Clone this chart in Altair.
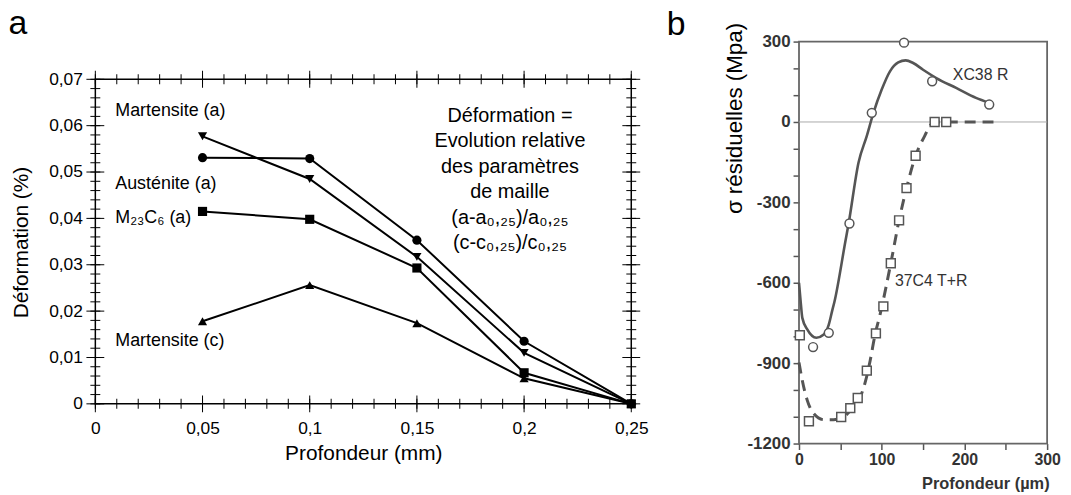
import altair as alt
import pandas as pd

FONT = "Liberation Sans"

# ---------------- panel a : data ----------------
depth_mm = [0.05, 0.10, 0.15, 0.20, 0.25]
series_names = ["Martensite (a)", "Austénite (a)", "M23C6 (a)", "Martensite (c)"]
martensite_a = [0.0577, 0.0485, 0.0317, 0.0110, 0.0]
austenite_a = [0.0531, 0.0529, 0.0353, 0.0135, 0.0]
m23c6_a = [0.0415, 0.0398, 0.0293, 0.0067, 0.0]
martensite_c = [0.0178, 0.0256, 0.0174, 0.0055, 0.0]
series_values = [martensite_a, austenite_a, m23c6_a, martensite_c]
series_shapes = ["triangle-down", "circle", "square", "triangle-up"]

label_texts = ["Martensite (a)", "Austénite (a)", "M₂₃C₆ (a)", "Martensite (c)"]
label_x = [0.0093, 0.0093, 0.0093, 0.0093]
label_y = [0.0632, 0.0474, 0.0401, 0.0135]

note_lines = ["Déformation =", "Evolution relative", "des paramètres",
              "de maille", "(a-a₀,₂₅)/a₀,₂₅", "(c-c₀,₂₅)/c₀,₂₅"]
note_x = 0.1934
note_y = 0.0621

panel_a_tag = ("a", -0.0405, 0.0798)

xa_ticks_major = [0, 0.05, 0.1, 0.15, 0.2, 0.25]
xa_ticks_minor = [round(i * 0.01, 2) for i in range(26)]
ya_ticks_major = [0, 0.01, 0.02, 0.03, 0.04, 0.05, 0.06, 0.07]
ya_ticks_minor = [round(i * 0.002, 3) for i in range(36)]

# ---------------- panel b : data ----------------
xc38_pts_x = [17, 36, 61, 88, 127, 161, 230]
xc38_pts_y = [-840, -787, -379, 34, 296, 152, 65]
xc38_curve_x = [0, 2, 4, 10, 21, 30, 36, 40, 43, 56, 60, 72, 82, 90, 100, 110,
                120, 129, 138, 150, 166, 190, 214, 230]
xc38_curve_y = [-600, -670, -731, -774, -805, -793, -756, -706, -669, -447, -379,
                -151, -52, 34, 121, 189, 222, 230, 220, 195, 164, 127, 90, 72]

c4_pts_x = [1, 12, 51, 62, 71, 82, 93, 102, 111, 121, 130, 141, 164, 178]
c4_pts_y = [-796, -1117, -1101, -1068, -1030, -928, -789, -688, -527, -367,
            -247, -126, 0, 0]
c4_curve_x = [0, 4, 10, 18, 30, 42, 52, 64, 74, 80, 86, 92, 98, 111, 121, 130,
              141, 152, 160, 170, 200, 238]
c4_curve_y = [-898, -965, -1039, -1089, -1111, -1111, -1104, -1070, -1027, -972,
              -891, -793, -719, -527, -367, -247, -126, -52, -9, 0, 0, 0]

b_labels = ["XC38 R", "37C4 T+R"]
b_label_x = [186, 116]
b_label_y = [176, -595]

panel_b_tag = ("b", -160, 326)

xb_ticks = [0, 50, 100, 150, 200, 250, 300]
yb_ticks = list(range(-1200, 301, 100))

# ---------------- panel a ----------------
A_W, A_H = 540, 365
A_YMAX = 0.07 * 365 / 327  # plot extends above the frame so tops align with panel b
XA_LO, XA_HI = xa_ticks_major[0], xa_ticks_major[-1]
YA_LO, YA_HI = ya_ticks_major[0], ya_ticks_major[-1]

xsA = alt.Scale(domain=[0, 0.25], nice=False, zero=False)
ysA = alt.Scale(domain=[0, A_YMAX], nice=False, zero=False)

comma_expr = "replace(toString(datum.value), '.', ',')"

axA_x = alt.Axis(values=xa_ticks_major, labelExpr=comma_expr, ticks=False, domain=False,
                 grid=False, labelFontSize=17.5, labelColor="black", labelPadding=16,
                 labelFlush=False, labelOverlap=False, title="Profondeur (mm)",
                 titleFontSize=21, titleFontWeight="normal", titleColor="black",
                 titleY=56, titleBaseline="alphabetic")
axA_y = alt.Axis(values=ya_ticks_major, labelExpr=comma_expr, ticks=False, domain=False,
                 grid=False, labelFontSize=17.5, labelColor="black", labelPadding=13,
                 labelFlush=False, labelOverlap=False, title="Déformation (%)",
                 titleFontSize=21, titleFontWeight="normal", titleColor="black",
                 titleX=-74, titleY=202, titleAlign="center", titleBaseline="middle",
                 titleAngle=270)

rows = []
for name, vals in zip(series_names, series_values):
    for d, v in zip(depth_mm, vals):
        rows.append({"series": name, "depth": d, "value": v})
df_a = pd.DataFrame(rows)

one = pd.DataFrame({"k": [0]})

frame_a = alt.Chart(one).mark_rect(fillOpacity=0, stroke="black", strokeWidth=1.5).encode(
    x=alt.XDatum(XA_LO, scale=xsA, axis=axA_x),
    x2=alt.X2Datum(XA_HI),
    y=alt.YDatum(YA_LO, scale=ysA, axis=axA_y),
    y2=alt.Y2Datum(YA_HI),
)

# tick tables along the four sides of the frame
xtick_minor_df = pd.DataFrame([{"t": t, "lvl": l} for l in (YA_LO, YA_HI) for t in xa_ticks_minor])
xtick_major_df = pd.DataFrame([{"t": t, "lvl": l} for l in (YA_LO, YA_HI) for t in xa_ticks_major])
ytick_minor_df = pd.DataFrame([{"t": t, "lvl": l} for l in (XA_LO, XA_HI) for t in ya_ticks_minor])
ytick_major_df = pd.DataFrame([{"t": t, "lvl": l} for l in (XA_LO, XA_HI) for t in ya_ticks_major])


def xticks(df, size):
    return alt.Chart(df).mark_tick(orient="vertical", size=size, thickness=1,
                                   color="black", opacity=1).encode(
        x=alt.X("t:Q", scale=xsA),
        y=alt.Y("lvl:Q", scale=ysA))


def yticks(df, size):
    return alt.Chart(df).mark_tick(orient="horizontal", size=size, thickness=1,
                                   color="black", opacity=1).encode(
        y=alt.Y("t:Q", scale=ysA),
        x=alt.X("lvl:Q", scale=xsA))


tick_layers = [xticks(xtick_minor_df, 10), xticks(xtick_major_df, 17),
               yticks(ytick_minor_df, 10), yticks(ytick_major_df, 18)]

lines_a = alt.Chart(df_a).mark_line(color="black", strokeWidth=2).encode(
    x=alt.X("depth:Q", scale=xsA, axis=axA_x),
    y=alt.Y("value:Q", scale=ysA, axis=axA_y),
    detail="series:N",
    order="depth:Q",
)
points_a = alt.Chart(df_a).mark_point(filled=True, color="black", opacity=1, size=85).encode(
    x=alt.X("depth:Q", scale=xsA, axis=axA_x),
    y=alt.Y("value:Q", scale=ysA, axis=axA_y),
    shape=alt.Shape("series:N", scale=alt.Scale(domain=series_names, range=series_shapes),
                    legend=None),
)

df_lab = pd.DataFrame({"text": label_texts, "x": label_x, "y": label_y})
labels_a = alt.Chart(df_lab).mark_text(align="left", baseline="middle", fontSize=18,
                                       color="black").encode(
    x=alt.X("x:Q", scale=xsA, axis=axA_x),
    y=alt.Y("y:Q", scale=ysA, axis=axA_y),
    text="text:N",
)

note_a = alt.Chart(one).mark_text(text=note_lines, align="center", baseline="middle",
                                  fontSize=20, lineHeight=25.6, color="black").encode(
    x=alt.XDatum(note_x, scale=xsA, axis=axA_x),
    y=alt.YDatum(note_y, scale=ysA, axis=axA_y),
)

tag_a = alt.Chart(one).mark_text(text=panel_a_tag[0], align="left", baseline="alphabetic",
                                 fontSize=34, color="black").encode(
    x=alt.XDatum(panel_a_tag[1], scale=xsA, axis=axA_x),
    y=alt.YDatum(panel_a_tag[2], scale=ysA, axis=axA_y),
)

panel_a = alt.layer(frame_a, *tick_layers, lines_a, points_a, labels_a, note_a,
                    tag_a).properties(width=A_W, height=A_H)

# ---------------- panel b ----------------
B_W, B_H = 250, 405
xsB = alt.Scale(domain=[0, 300], nice=False, zero=False)
ysB = alt.Scale(domain=[-1200, 300], nice=False, zero=False)

axB_x = alt.Axis(values=xb_ticks,
                 labelExpr="datum.value % 100 === 0 ? toString(datum.value) : ''",
                 tickSize=6, tickColor="#555", tickWidth=1.5, domain=False, grid=False,
                 labelFontSize=16, labelFontWeight="bold", labelColor="#333", labelPadding=2,
                 labelFlush=False, labelOverlap=False, title="Profondeur (µm)",
                 titleFontSize=16.5, titleFontWeight="bold", titleColor="#333",
                 titleX=252, titleAlign="right", titleY=45, titleBaseline="alphabetic")
axB_y = alt.Axis(values=yb_ticks,
                 labelExpr="datum.value % 300 === 0 ? toString(datum.value) : ''",
                 tickSize=6, tickColor="#555", tickWidth=1.5, domain=False, grid=False,
                 labelFontSize=17, labelFontWeight="bold", labelColor="#333", labelPadding=3,
                 labelFlush=False, labelOverlap=False, title="σ résiduelles (Mpa)",
                 titleFontSize=22.5, titleFontWeight="normal", titleColor="black",
                 titleX=-65, titleY=77, titleAlign="center", titleBaseline="middle",
                 titleAngle=270)

frame_b = alt.Chart(one).mark_rect(fillOpacity=0, stroke="#666", strokeWidth=1.8).encode(
    x=alt.XDatum(0, scale=xsB, axis=axB_x),
    x2=alt.X2Datum(300),
    y=alt.YDatum(-1200, scale=ysB, axis=axB_y),
    y2=alt.Y2Datum(300),
)
zero_b = alt.Chart(one).mark_rule(color="#aaa", strokeWidth=1).encode(
    x=alt.XDatum(0, scale=xsB, axis=axB_x),
    x2=alt.X2Datum(300),
    y=alt.YDatum(0, scale=ysB, axis=axB_y),
)

df_xc_curve = pd.DataFrame({"x": xc38_curve_x, "y": xc38_curve_y})
df_c4_curve = pd.DataFrame({"x": c4_curve_x, "y": c4_curve_y})
df_xc_pts = pd.DataFrame({"x": xc38_pts_x, "y": xc38_pts_y})
df_c4_pts = pd.DataFrame({"x": c4_pts_x, "y": c4_pts_y})

enc_b = dict(x=alt.X("x:Q", scale=xsB, axis=axB_x), y=alt.Y("y:Q", scale=ysB, axis=axB_y))

curve_xc = alt.Chart(df_xc_curve).mark_line(color="#555", strokeWidth=2.6,
                                            interpolate="monotone").encode(**enc_b)
curve_c4 = alt.Chart(df_c4_curve).mark_line(color="#555", strokeWidth=3,
                                            strokeDash=[11, 7],
                                            interpolate="monotone").encode(**enc_b)
pts_xc = alt.Chart(df_xc_pts).mark_point(shape="circle", filled=True, fill="white",
                                         stroke="#555", strokeWidth=1.5, size=80,
                                         opacity=1).encode(**enc_b)
pts_c4 = alt.Chart(df_c4_pts).mark_point(shape="square", filled=True, fill="white",
                                         stroke="#555", strokeWidth=1.5, size=80,
                                         opacity=1).encode(**enc_b)

df_blab = pd.DataFrame({"text": b_labels, "x": b_label_x, "y": b_label_y})
labels_b = alt.Chart(df_blab).mark_text(align="left", baseline="middle", fontSize=16,
                                        color="#333").encode(
    text="text:N", **enc_b
)

tag_b = alt.Chart(one).mark_text(text=panel_b_tag[0], align="left", baseline="alphabetic",
                                 fontSize=34, color="black").encode(
    x=alt.XDatum(panel_b_tag[1], scale=xsB, axis=axB_x),
    y=alt.YDatum(panel_b_tag[2], scale=ysB, axis=axB_y),
)

panel_b = alt.layer(frame_b, zero_b, curve_xc, curve_c4, pts_xc, pts_c4, labels_b,
                    tag_b).properties(width=B_W, height=B_H)

chart = alt.hconcat(panel_a, panel_b, spacing=169, bounds="flush").properties(
    autosize=alt.AutoSizeParams(type="none"),
    padding={"left": 88, "top": 32, "right": 975, "bottom": 453},
).configure(font=FONT).configure_view(strokeWidth=0)

chart.save("out.html", embed_options={"renderer": "svg", "actions": False})
